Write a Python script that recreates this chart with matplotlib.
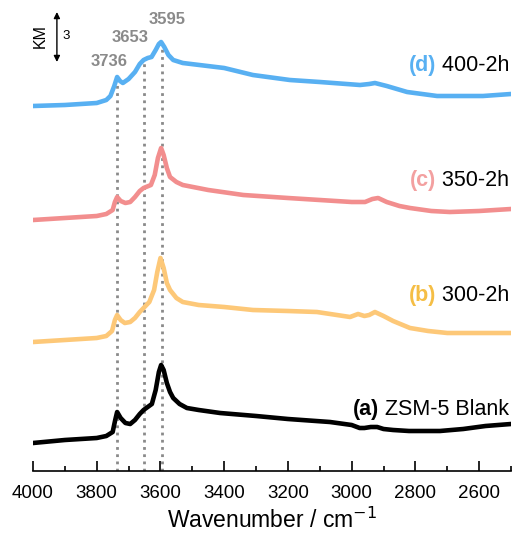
import matplotlib
matplotlib.use("Agg")
from matplotlib import pyplot as plt
from matplotlib.ticker import MultipleLocator

plt.rcParams['font.family'] = ['Liberation Sans', 'DejaVu Sans']

# (a) ZSM-5 Blank (stacked KM values)
wn_a = [4000, 3900, 3800, 3770, 3750, 3742, 3736, 3725, 3710, 3695, 3680, 3665,
        3653, 3640, 3627, 3615, 3605, 3598, 3590, 3580, 3570, 3560, 3540, 3517,
        3480, 3413, 3300, 3200, 3068, 3000, 2975, 2960, 2940, 2920, 2900, 2870,
        2820, 2723, 2650, 2580, 2500]
km_a = [1.50, 1.68, 1.80, 1.92, 2.16, 2.88, 3.36, 3.00, 2.70, 2.64, 2.88, 3.24,
        3.48, 3.66, 3.84, 4.68, 5.76, 6.18, 5.88, 5.10, 4.56, 4.20, 3.84, 3.60,
        3.48, 3.30, 3.12, 2.94, 2.76, 2.58, 2.40, 2.40, 2.46, 2.46, 2.34, 2.28,
        2.22, 2.22, 2.34, 2.52, 2.64]

# (b) 300-2h
wn_b = [4000, 3900, 3800, 3770, 3752, 3743, 3736, 3725, 3712, 3695, 3680, 3665,
        3653, 3635, 3620, 3610, 3600, 3590, 3580, 3570, 3550, 3530, 3480, 3400,
        3310, 3200, 3109, 3005, 2980, 2960, 2945, 2927, 2900, 2870, 2817, 2760,
        2700, 2600, 2500]
km_b = [7.56, 7.68, 7.80, 7.92, 8.22, 8.88, 9.18, 8.88, 8.70, 8.76, 9.00, 9.36,
        9.60, 9.96, 10.68, 11.76, 12.60, 12.00, 11.10, 10.68, 10.20, 9.96, 9.78, 9.66,
        9.48, 9.42, 9.36, 9.06, 9.24, 9.12, 9.18, 9.36, 9.12, 8.82, 8.40, 8.22,
        8.10, 8.10, 8.10]

# (c) 350-2h
wn_c = [4000, 3900, 3800, 3770, 3750, 3743, 3736, 3725, 3710, 3695, 3680, 3665,
        3653, 3630, 3618, 3608, 3598, 3590, 3580, 3570, 3550, 3530, 3450, 3340,
        3200, 3100, 3000, 2958, 2935, 2917, 2890, 2850, 2817, 2750, 2692, 2600, 2500]
km_c = [14.88, 15.00, 15.12, 15.24, 15.48, 15.96, 16.26, 16.02, 15.90, 15.96, 16.26, 16.62,
        16.80, 16.98, 17.58, 18.60, 19.20, 18.78, 18.00, 17.46, 17.16, 16.98, 16.68, 16.38,
        16.20, 16.08, 15.96, 15.96, 16.14, 16.20, 15.96, 15.72, 15.60, 15.42, 15.36, 15.42, 15.54]

# (d) 400-2h
wn_d = [4000, 3900, 3800, 3770, 3757, 3745, 3736, 3727, 3718, 3700, 3680, 3665,
        3653, 3640, 3628, 3615, 3605, 3598, 3588, 3575, 3560, 3530, 3400, 3310,
        3194, 3100, 2974, 2945, 2927, 2890, 2826, 2732, 2588, 2500]
km_d = [21.72, 21.78, 21.90, 22.08, 22.32, 22.92, 23.46, 23.22, 23.10, 23.34, 23.76, 24.24,
        24.48, 24.60, 24.66, 25.08, 25.44, 25.56, 25.26, 24.78, 24.48, 24.30, 24.00, 23.58,
        23.28, 23.16, 22.98, 23.04, 23.10, 22.92, 22.56, 22.32, 22.32, 22.44]

peaks = [3736, 3653, 3595]
peak_tops = [23.4, 24.5, 25.6]
peak_label_pos = [(3762, 24.36), (3696, 25.8), (3580, 26.94)]

labels = [('(a)', ' ZSM-5 Blank', 2.9), ('(b)', ' 300-2h', 9.7),
          ('(c)', ' 350-2h', 16.6), ('(d)', ' 400-2h', 23.5)]
colors = ['black', '#fdc878', '#f28e8e', '#58b0f2']
label_colors = ['black', '#f5be45', '#f3a0a0', '#58b0f2']

fig = plt.figure(figsize=(5.13, 5.35), dpi=100)
ax = fig.add_axes([33 / 513, (535 - 471) / 535, 478 / 513, 471 / 535])

# dotted guides first, spectra on top
for p, top in zip(peaks, peak_tops):
    ax.plot([p, p], [-0.2, top], ls=(0, (1, 1.6)), color='#8a8a8a', lw=2.0, zorder=1)

for wn, km, c in zip([wn_a, wn_b, wn_c, wn_d], [km_a, km_b, km_c, km_d], colors):
    ax.plot(wn, km, color=c, lw=3.3, solid_joinstyle='round', solid_capstyle='round', zorder=2)

for (x, y), p in zip(peak_label_pos, peaks):
    ax.text(x, y, str(p), color='#8a8a8a', fontsize=12, fontweight='bold',
            ha='center', va='center')

# sample labels: coloured bold tag + black name
for (tag, name, y), lc in zip(labels, label_colors):
    t = ax.text(2505, y, name, fontsize=15.5, ha='right', va='bottom', color='black')
    ax.annotate(tag, xy=(0, 0), xycoords=t, fontsize=15.5, fontweight='bold',
                color=lc, ha='right', va='bottom')

# KM scale bar (3 units)
ax.annotate('', xy=(3925, 27.36), xytext=(3925, 24.36),
            arrowprops=dict(arrowstyle='<|-|>', color='black', lw=1.0,
                            mutation_scale=9, shrinkA=0, shrinkB=0))
ax.text(3978, 25.9, 'KM', rotation=90, fontsize=11.5, ha='center', va='center')
ax.text(3897, 25.9, '3', fontsize=9.5, ha='center', va='center')

ax.set_xlim(4000, 2500)
ax.set_ylim(-0.18, 28.08)
ax.xaxis.set_major_locator(MultipleLocator(200))
ax.xaxis.set_minor_locator(MultipleLocator(100))
ax.tick_params(axis='x', which='major', direction='in', length=7, width=1.2,
               labelsize=13.5, pad=10)
ax.tick_params(axis='x', which='minor', direction='in', length=3.5, width=1.2)
ax.set_yticks([])
for s in ['left', 'right', 'top']:
    ax.spines[s].set_visible(False)
ax.spines['bottom'].set_linewidth(1.2)
ax.set_xlabel('Wavenumber / cm$^{-1}$', fontsize=16.5, labelpad=4)

fig.savefig('out.png', dpi=100)
